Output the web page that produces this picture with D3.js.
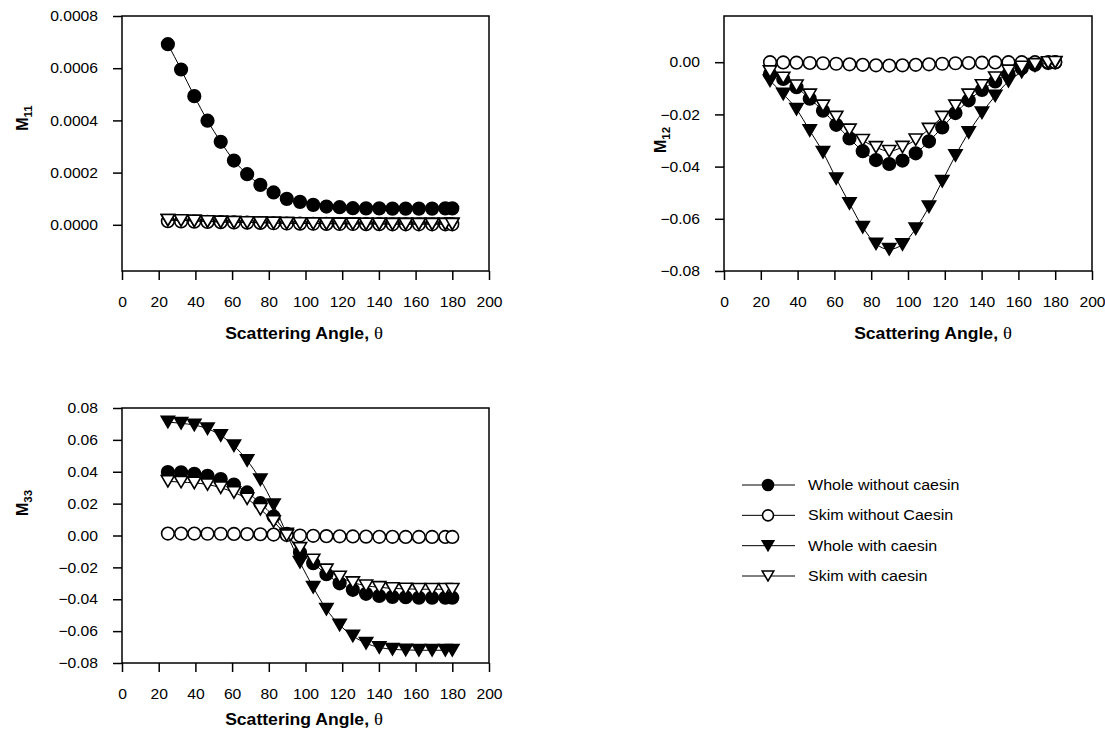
<!DOCTYPE html>
<html>
<head>
<meta charset="utf-8">
<script src="https://cdn.jsdelivr.net/npm/d3@7"></script>
<style>
  body { margin: 0; background: #fff; }
  svg { display: block; font-family: "Liberation Sans", Arial, sans-serif; }
</style>
</head>
<body>
<svg id="chart" width="1105" height="732"></svg>
<script>
// ---------- DATA ----------
const angles = [25, 32.2, 39.4, 46.6, 53.8, 61, 68.2, 75.4, 82.6, 89.8, 97, 104.2, 111.4, 118.6, 125.8, 133, 140.2, 147.4, 154.6, 161.8, 169, 176.2, 180];

const seriesNames = ["Whole without caesin", "Skim without Caesin", "Whole with caesin", "Skim with caesin"];

const m11WholeWithout = [0.000692, 0.000595, 0.000493, 0.000399, 0.000318, 0.000246, 0.000194, 0.000153, 0.000124, 0.0000994, 0.0000879, 0.0000764, 0.00007, 0.0000675, 0.0000637, 0.000063, 0.000063, 0.000062, 0.000062, 0.000062, 0.000062, 0.000063, 0.000063];
const m11SkimWithout = [0.000014, 0.000013, 0.000012, 0.000011, 0.00001, 0.000009, 0.000008, 0.000007, 0.000006, 0.000005, 0.0000045, 0.000004, 0.0000035, 0.000003, 0.000003, 0.0000025, 0.0000025, 0.000002, 0.000002, 0.000002, 0.000002, 0.000002, 0.000002];
const m11WholeWith = [0.000018, 0.000017, 0.000015, 0.000013, 0.000011, 0.00001, 0.000009, 0.000008, 0.000007, 0.000006, 0.0000055, 0.000005, 0.0000045, 0.000004, 0.000004, 0.0000035, 0.0000035, 0.000003, 0.000003, 0.000003, 0.000003, 0.000003, 0.000003];
const m11SkimWith = [0.000018, 0.000017, 0.000015, 0.000013, 0.000011, 0.00001, 0.000009, 0.000008, 0.000007, 0.000006, 0.0000055, 0.000005, 0.0000045, 0.000004, 0.000004, 0.0000035, 0.0000035, 0.000003, 0.000003, 0.000003, 0.000003, 0.000003, 0.000003];

const m12WholeWithout = [-0.0045, -0.0064, -0.0096, -0.014, -0.0186, -0.024, -0.0292, -0.0341, -0.0375, -0.039, -0.0377, -0.0349, -0.0303, -0.025, -0.0195, -0.0146, -0.0106, -0.0074, -0.0045, -0.0023, -0.001, -0.0003, -0.0001];
const m12SkimWithout = [0, -0.0001, -0.0002, -0.0003, -0.0004, -0.0006, -0.0008, -0.001, -0.0012, -0.0013, -0.0012, -0.001, -0.0008, -0.0006, -0.0004, -0.0003, -0.0002, -0.0001, 0, 0, 0, 0, 0];
const m12WholeWith = [-0.0071, -0.0122, -0.018, -0.0262, -0.0345, -0.0446, -0.0541, -0.0632, -0.0696, -0.0717, -0.0698, -0.0638, -0.0554, -0.0456, -0.0357, -0.0269, -0.0194, -0.0129, -0.0073, -0.0038, -0.0014, -0.0004, -0.0001];
const m12SkimWith = [-0.0036, -0.006, -0.009, -0.0125, -0.0167, -0.021, -0.0259, -0.0299, -0.0326, -0.0341, -0.0325, -0.0297, -0.0256, -0.021, -0.0167, -0.0125, -0.0089, -0.0059, -0.0033, -0.0018, -0.0008, -0.0001, 0];

const m33WholeWithout = [0.0398, 0.0396, 0.0387, 0.0375, 0.0354, 0.032, 0.027, 0.0203, 0.0119, 0.001, -0.0107, -0.0174, -0.0243, -0.03, -0.0341, -0.0366, -0.0379, -0.0385, -0.0387, -0.039, -0.039, -0.039, -0.039];
const m33SkimWithout = [0.0012, 0.0012, 0.0012, 0.0011, 0.0011, 0.001, 0.0009, 0.0008, 0.0006, 0.0003, 0, -0.0002, -0.0004, -0.0005, -0.0006, -0.0007, -0.0008, -0.0008, -0.0009, -0.0009, -0.0009, -0.0009, -0.0009];
const m33WholeWith = [0.0712, 0.0704, 0.0693, 0.067, 0.0628, 0.0563, 0.0471, 0.035, 0.0193, 0.001, -0.0168, -0.0325, -0.0463, -0.0561, -0.063, -0.0676, -0.0702, -0.0714, -0.0718, -0.072, -0.072, -0.072, -0.072];
const m33SkimWith = [0.034, 0.0335, 0.033, 0.032, 0.030, 0.027, 0.023, 0.0165, 0.0088, 0.0, -0.008, -0.0153, -0.0215, -0.026, -0.0295, -0.0315, -0.0325, -0.0332, -0.0335, -0.0337, -0.0337, -0.0337, -0.0337];

const xTicks = [0, 20, 40, 60, 80, 100, 120, 140, 160, 180, 200];
const m11Ticks = [0, 0.0002, 0.0004, 0.0006, 0.0008];
const m12Ticks = [0, -0.02, -0.04, -0.06, -0.08];
const m33Ticks = [-0.08, -0.06, -0.04, -0.02, 0, 0.02, 0.04, 0.06, 0.08];

// ---------- LAYOUT ----------
const svg = d3.select("#chart");
const markerTypes = ["circleFilled", "circleOpen", "triFilled", "triOpen"];
const SX = 1.08; // horizontal stretch of the reference lettering

function drawMarker(g, type, x, y, size) {
  const r = size;
  if (type.startsWith("circle")) {
    g.append("circle").attr("cx", x).attr("cy", y).attr("r", r)
      .attr("fill", type === "circleFilled" ? "#000" : "#fff")
      .attr("stroke", "#000").attr("stroke-width", 1.6);
  } else {
    const w = r * 1.05, h = r * 0.9;
    g.append("path")
      .attr("d", `M${x - w},${y - h}L${x + w},${y - h}L${x},${y + h}Z`)
      .attr("fill", type === "triFilled" ? "#000" : "#fff")
      .attr("stroke", "#000").attr("stroke-width", 1.6).attr("stroke-linejoin", "miter");
  }
}

function panel(opt) {
  const x = d3.scaleLinear().domain([0, 200]).range([opt.left, opt.right]);
  const y = d3.scaleLinear().domain(opt.yDomain).range([opt.bottom, opt.top]);
  const g = svg.append("g");

  g.append("rect").attr("x", opt.left).attr("y", opt.top)
    .attr("width", opt.right - opt.left).attr("height", opt.bottom - opt.top)
    .attr("fill", "none").attr("stroke", "#000").attr("stroke-width", 1.5);

  const xa = g.append("g").attr("transform", `translate(0,${opt.bottom})`)
    .call(d3.axisBottom(x).tickValues(xTicks).tickSize(9).tickPadding(17).tickFormat(d3.format("d")));
  const ya = g.append("g").attr("transform", `translate(${opt.left},0)`)
    .call(d3.axisLeft(y).tickValues(opt.ticks).tickSize(9).tickPadding(15).tickFormat(d3.format(opt.fmt)));
  [xa, ya].forEach(a => {
    a.select(".domain").remove();
    a.selectAll(".tick line").attr("stroke", "#000").attr("stroke-width", 1.5);
    a.selectAll(".tick text").attr("fill", "#000").style("font-size", "14.5px")
      .style("font-family", '"Liberation Sans", Arial, sans-serif')
      .attr("transform", `scale(${SX},1)`);
  });
  ya.selectAll(".tick text").attr("x", -24 / SX);

  const line = d3.line().x((d, i) => x(angles[i])).y(d => y(d)).curve(d3.curveMonotoneX);
  opt.series.forEach((vals, si) => {
    const sg = g.append("g");
    sg.append("path").attr("d", line(vals)).attr("fill", "none")
      .attr("stroke", "#000").attr("stroke-width", 1);
    vals.forEach((v, i) => drawMarker(sg, markerTypes[si], x(angles[i]), y(v), 6.3));
  });

  const xt = g.append("text").attr("transform", `translate(${opt.xTitleX},${opt.xTitleY}) scale(1.1,1)`)
    .attr("text-anchor", "middle").style("font-size", "16px").style("font-weight", "bold");
  xt.append("tspan").text("Scattering Angle, ");
  xt.append("tspan").text("θ").style("font-weight", "normal")
    .style("font-family", '"Liberation Serif", "DejaVu Serif", serif').style("font-size", "17px");

  const yt = g.append("text").attr("transform", `translate(${opt.yTitleX},${opt.yTitleY}) rotate(-90)`)
    .attr("text-anchor", "middle").style("font-size", "16px").style("font-weight", "bold");
  yt.append("tspan").text("M");
  yt.append("tspan").text(opt.sub).attr("dy", 4).style("font-size", "11.5px");
}

panel({
  left: 122, right: 489, top: 16, bottom: 271,
  yDomain: [-0.000177, 0.0008], ticks: m11Ticks, fmt: ".4f",
  series: [m11WholeWithout, m11SkimWithout, m11WholeWith, m11SkimWith],
  xTitleX: 304, xTitleY: 339, yTitleX: 28, yTitleY: 118, sub: "11"
});
panel({
  left: 724, right: 1092, top: 16, bottom: 271,
  yDomain: [-0.08, 0.0177], ticks: m12Ticks, fmt: ".2f",
  series: [m12WholeWithout, m12SkimWithout, m12WholeWith, m12SkimWith],
  xTitleX: 933, xTitleY: 339, yTitleX: 666, yTitleY: 140, sub: "12"
});
panel({
  left: 122, right: 489, top: 408, bottom: 663,
  yDomain: [-0.08, 0.08], ticks: m33Ticks, fmt: ".2f",
  series: [m33WholeWithout, m33SkimWithout, m33WholeWith, m33SkimWith],
  xTitleX: 304, xTitleY: 725, yTitleX: 28, yTitleY: 503, sub: "33"
});

// ---------- LEGEND ----------
const legendY = d3.scalePoint().domain(seriesNames).range([485, 576]);
const lg = svg.append("g");
seriesNames.forEach((name, i) => {
  const yy = legendY(name);
  lg.append("line").attr("x1", 742).attr("x2", 795).attr("y1", yy).attr("y2", yy)
    .attr("stroke", "#000").attr("stroke-width", 1);
  drawMarker(lg, markerTypes[i], 768, yy, 5.5);
  lg.append("text").attr("transform", `translate(808,${yy + 5}) scale(1.07,1)`).text(name)
    .style("font-size", "15px").attr("fill", "#000");
});
</script>
</body>
</html>
